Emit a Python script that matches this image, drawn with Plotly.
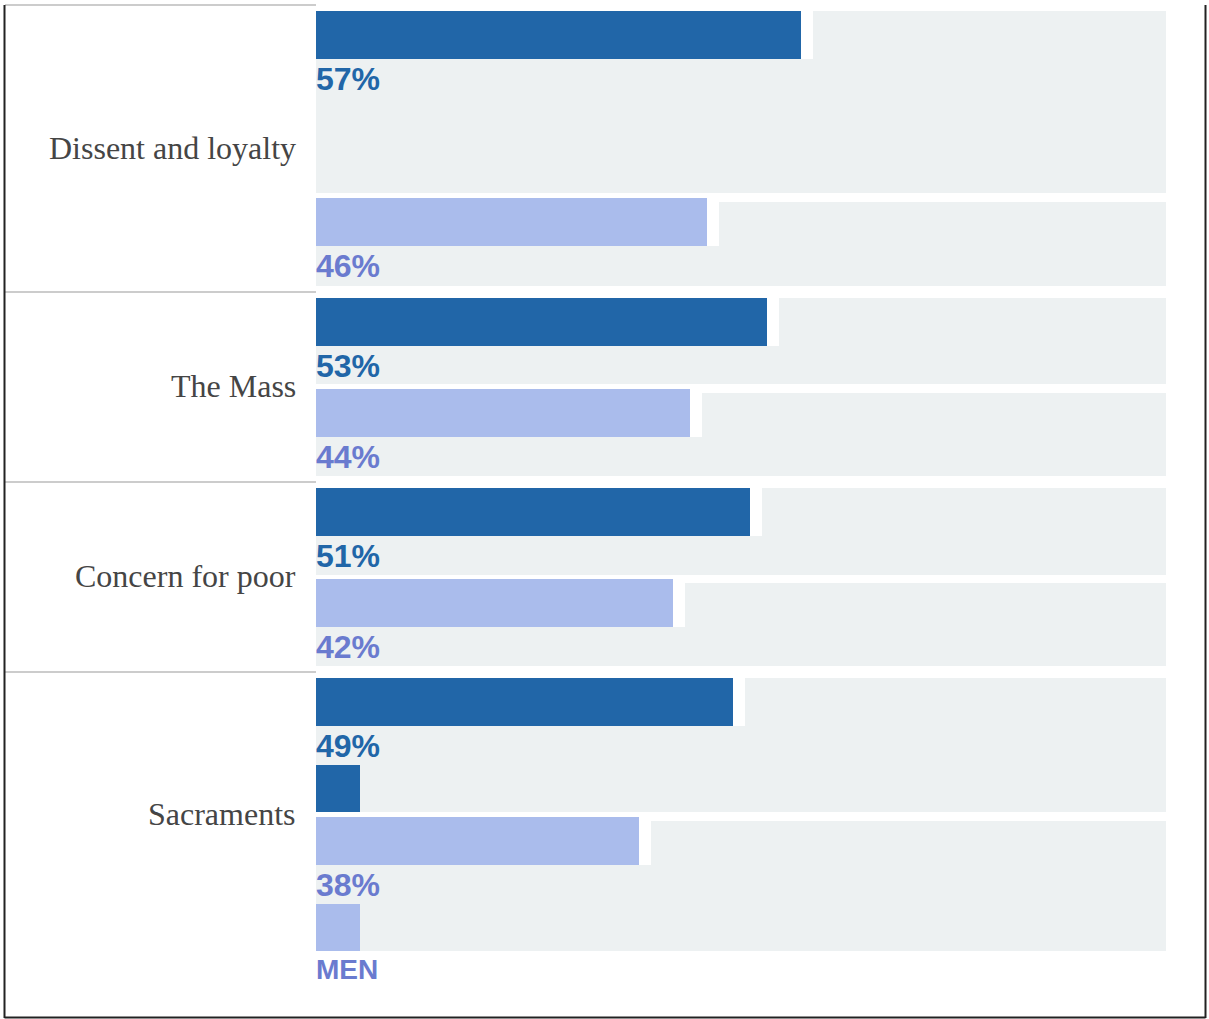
import plotly.graph_objects as go

# Survey data: share of respondents per topic, women (dark) vs men (light)
categories = ["Dissent and loyalty", "The Mass", "Concern for poor", "Sacraments"]
women = [57, 53, 51, 49]
men = [46, 44, 42, 38]

# Canvas geometry (pixels)
W, H = 1209, 1019
X0_PX, X100_PX = 316, 1166          # where 0% and 100% fall
PX_PER_PCT = (X100_PX - X0_PX) / 100.0
BAR_H = 48
GAP_PCT = 12 / PX_PER_PCT            # white notch after each bar

# Vertical layout of the table rows (pixels from top)
sep_y = [5, 292, 482, 672]
dark_top = [11, 298, 488, 678]
dark_bg_bottom = [193, 384, 575, 812]
light_top = [198, 389, 579, 817]
light_bg_bottom = [286, 476, 666, 951]
section_bottom = [292, 482, 672, 957]

DARK = "#2166a8"
LIGHT = "#aabcec"
LIGHT_TEXT = "#6a7bcf"
BG = "#edf1f2"

x_range = [-X0_PX / PX_PER_PCT, (W - X0_PX) / PX_PER_PCT]

fig = go.Figure()

dark_centers = [t + BAR_H / 2 for t in dark_top]
light_centers = [t + BAR_H / 2 for t in light_top]

for vals, centers, color in ((women, dark_centers, DARK), (men, light_centers, LIGHT)):
    fig.add_trace(go.Bar(
        orientation="h", x=vals, y=centers, base=0, width=BAR_H,
        marker=dict(color=color, line=dict(width=0)),
        hoverinfo="skip", showlegend=False,
    ))
    fig.add_trace(go.Bar(
        orientation="h", x=[GAP_PCT] * len(vals), y=centers, base=vals, width=BAR_H,
        marker=dict(color="white", line=dict(width=0)),
        hoverinfo="skip", showlegend=False,
    ))

shapes = []
# grey track behind each bar
for i in range(len(categories)):
    shapes.append(dict(type="rect", xref="x", yref="y", x0=0, x1=100,
                       y0=dark_top[i], y1=dark_bg_bottom[i],
                       fillcolor=BG, line=dict(width=0), layer="below"))
    shapes.append(dict(type="rect", xref="x", yref="y", x0=0, x1=100,
                       y0=light_top[i] + 4, y1=light_bg_bottom[i],
                       fillcolor=BG, line=dict(width=0), layer="below"))
    # row separator in the label column
    shapes.append(dict(type="line", xref="x", yref="y", x0=x_range[0] + 5 / PX_PER_PCT, x1=0,
                       y0=sep_y[i], y1=sep_y[i], line=dict(color="#cccccc", width=2)))

# key swatches under the last row
SWATCH_PCT = 44 / PX_PER_PCT
shapes.append(dict(type="rect", xref="x", yref="y", x0=0, x1=SWATCH_PCT, y0=765, y1=812,
                   fillcolor=DARK, line=dict(width=0)))
shapes.append(dict(type="rect", xref="x", yref="y", x0=0, x1=SWATCH_PCT, y0=904, y1=951,
                   fillcolor=LIGHT, line=dict(width=0)))

# outer frame (left, right, bottom)
fx0 = x_range[0] + 4.5 / PX_PER_PCT
fx1 = x_range[0] + 1205.5 / PX_PER_PCT
shapes += [
    dict(type="line", xref="x", yref="y", x0=fx0, x1=fx0, y0=5, y1=1018, line=dict(color="#222", width=2)),
    dict(type="line", xref="x", yref="y", x0=fx1, x1=fx1, y0=5, y1=1018, line=dict(color="#222", width=2)),
    dict(type="line", xref="x", yref="y", x0=fx0, x1=fx1, y0=1017.5, y1=1017.5, line=dict(color="#222", width=2)),
]

SANS = "Liberation Sans, Arial, sans-serif"
annotations = []
for i, cat in enumerate(categories):
    annotations.append(dict(
        x=-18 / PX_PER_PCT, y=(sep_y[i] + section_bottom[i]) / 2 - 1, xref="x", yref="y",
        text=cat, showarrow=False, xanchor="right", yanchor="middle",
        font=dict(family="Liberation Serif, Times New Roman, serif", size=32, color="#454545"),
    ))
    annotations.append(dict(
        x=0, y=dark_top[i] + BAR_H + 20, xref="x", yref="y", text=f"{women[i]}%",
        showarrow=False, xanchor="left", yanchor="middle", xshift=-2,
        font=dict(family=SANS, size=32, color=DARK, weight="bold"),
    ))
    annotations.append(dict(
        x=0, y=light_top[i] + BAR_H + 20, xref="x", yref="y", text=f"{men[i]}%",
        showarrow=False, xanchor="left", yanchor="middle", xshift=-2,
        font=dict(family=SANS, size=32, color=LIGHT_TEXT, weight="bold"),
    ))
annotations.append(dict(
    x=0, y=969, xref="x", yref="y", text="MEN", showarrow=False, xanchor="left", yanchor="middle",
    xshift=-2, font=dict(family=SANS, size=28, color=LIGHT_TEXT, weight="bold"),
))

fig.update_layout(
    width=W, height=H,
    margin=dict(l=0, r=0, t=0, b=0),
    paper_bgcolor="white", plot_bgcolor="white",
    barmode="overlay", bargap=0,
    shapes=shapes, annotations=annotations,
    xaxis=dict(range=x_range, visible=False, fixedrange=True),
    yaxis=dict(range=[H, 0], visible=False, fixedrange=True),
    showlegend=False,
)

fig.write_html("out.html", config={"displayModeBar": False})
